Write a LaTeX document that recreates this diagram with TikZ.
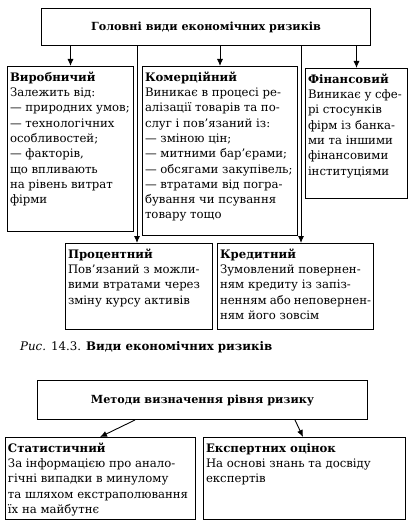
\documentclass[tikz,border=0pt]{standalone}
\usepackage{fontspec}
\setmainfont{DejaVu Serif}
\usetikzlibrary{arrows.meta}
\newcommand\bodyfont{\fontsize{11.7}{15.3}\selectfont}
\newcommand\bx[3]{\parbox[t][#2][t]{#1}{\strut #3}}
\tikzset{
  box/.style={draw, line width=1pt, anchor=north west, inner xsep=2.5pt, inner ysep=4pt, font=\bodyfont, align=left},
  titlebox/.style={draw, line width=1pt, anchor=north west, inner sep=0pt, font=\fontsize{11.2}{13}\selectfont\bfseries},
  conn/.style={line width=0.9pt, -{Latex[length=7pt,width=6pt]}},
}
\begin{document}
\begin{tikzpicture}[x=1pt,y=-1pt]
\useasboundingbox (0,0) rectangle (409,529);
% top section
\node[titlebox, minimum width=329pt, minimum height=37pt] (title) at (41,8) {Головні види економічних ризиків};
\node[box] (vyr) at (7,66) {\bx{121pt}{157pt}{\textbf{Виробничий}\\Залежить від:\\— природних умов;\\— технологічних\\особливостей;\\— факторів,\\що впливають\\на рівень витрат\\фірми}};
\node[box] (kom) at (142,66) {\bx{150pt}{161pt}{\textbf{Комерційний}\\Виникає в процесі ре-\\алізації товарів та по-\\слуг і пов’язаний із:\\— зміною цін;\\— митними бар’єрами;\\— обсягами закупівель;\\— втратами від погра-\\бування чи псування\\товару тощо}};
\node[box] (fin) at (305,68) {\bx{97pt}{122pt}{\textbf{Фінансовий}\\Виникає у сфе-\\рі стосунків\\фірм із банка-\\ми та іншими\\фінансовими\\інституціями}};
\node[box] (proc) at (65,243) {\bx{142pt}{78pt}{\textbf{Процентний}\\Пов’язаний з можли-\\вими втратами через\\зміну курсу активів}};
\node[box] (kred) at (217,243) {\bx{151pt}{78pt}{\textbf{Кредитний}\\Зумовлений повернен-\\ням кредиту із запіз-\\ненням або неповернен-\\ням його зовсім}};
\draw[conn] (title.south -| vyr.north) -- (vyr.north);
\draw[conn] (title.south -| kom.north) -- (kom.north);
\draw[conn] (title.south -| fin.north) -- (fin.north);
\draw[conn] (title.south -| 137,0) -- (proc.north -| 137,0);
\draw[conn] (title.south -| 301,0) -- (kred.north -| 301,0);
\node[anchor=west, inner sep=0pt, font=\fontsize{11.8}{13}\selectfont] (cap) at (20,347) {\textit{Рис.} 14.3. \textbf{Види економічних ризиків}};
% bottom section
\node[titlebox, minimum width=330pt, minimum height=39pt] (meth) at (37,380) {Методи визначення рівня ризику};
\node[box] (stat) at (5,437) {\bx{185pt}{74pt}{\textbf{Статистичний}\\За інформацією про анало-\\гічні випадки в минулому\\та шляхом екстраполювання\\їх на майбутнє}};
\node[box] (exp) at (203,437) {\bx{197pt}{74pt}{\textbf{Експертних оцінок}\\На основі знань та досвіду\\експертів}};
\draw[conn] (meth.south -| 135,0) -- (stat.north -| 100,0);
\draw[conn] (meth.south -| 295,0) -- (exp.north -| 303,0);
\end{tikzpicture}
\end{document}
